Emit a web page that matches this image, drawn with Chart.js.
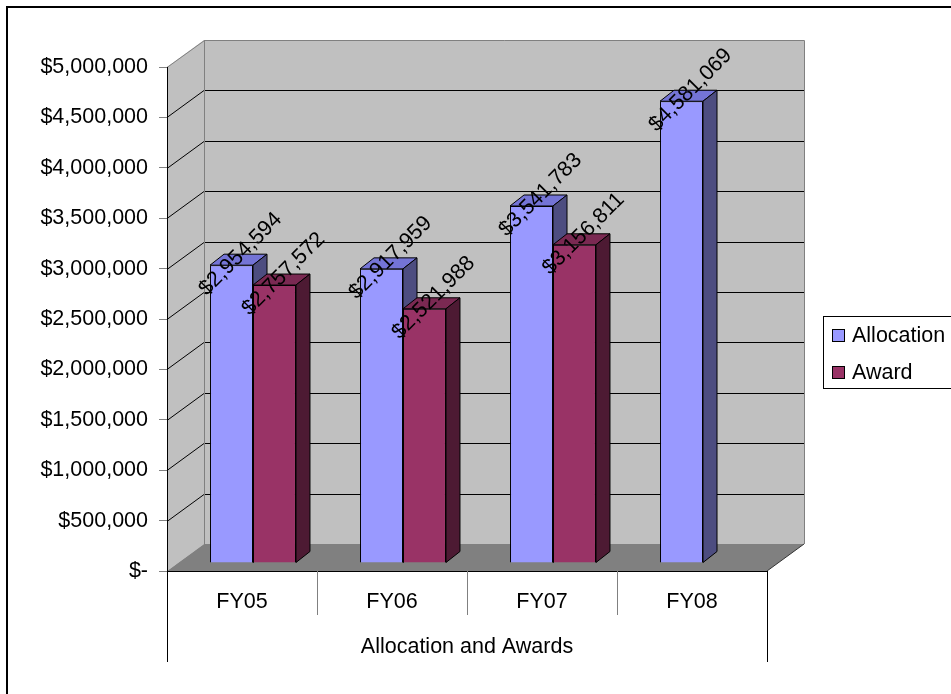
<!DOCTYPE html>
<html lang="en">
<head>
    <meta charset="UTF-8">
    <title>Allocation and Awards</title>
    <script src="https://cdn.jsdelivr.net/npm/chart.js@4.4.1/dist/chart.umd.min.js"></script>
    <style>
        body {
            margin: 0;
            background: #ffffff;
        }

        #chart {
            display: block;
        }
    </style>
</head>
<body>
    <canvas id="chart" width="951" height="694"></canvas>

    <script>
        // Data
        const categories = ['FY05', 'FY06', 'FY07', 'FY08'];
        const allocation = [2954594, 2917959, 3541783, 4581069];
        const award = [2757572, 2521988, 3156811, null];
        const yMin = 0;
        const yMax = 5000000;
        const yStep = 500000;

        const FONT = "'Liberation Sans', Arial, sans-serif";
        const FONT_SIZE = 21.5;
        const colors = {
            allocation: { front: '#9999FF', top: '#7474D6', side: '#4D4D80' },
            award: { front: '#993366', top: '#7A2952', side: '#4D1A33' }
        };

        // 3D look: depth of the box, where bars sit inside it, depth of a bar
        const WALL_DX = 37, WALL_DY = -27;
        const BAR_SHIFT_X = 11, BAR_SHIFT_Y = -8;
        const BAR_DX = 14, BAR_DY = -11;

        const money = v => v === 0 ? '$-' : '$' + v.toLocaleString('en-US');

        function poly(ctx, pts, fill, stroke) {
            ctx.beginPath();
            ctx.moveTo(pts[0][0], pts[0][1]);
            for (let i = 1; i < pts.length; i++) ctx.lineTo(pts[i][0], pts[i][1]);
            ctx.closePath();
            if (fill) { ctx.fillStyle = fill; ctx.fill(); }
            if (stroke) { ctx.strokeStyle = stroke; ctx.stroke(); }
        }

        const excel3d = {
            id: 'excel3d',
            beforeDraw(chart) {
                const { ctx, chartArea: a, scales: { y } } = chart;
                ctx.save();

                // outer frame (runs off the page at right and bottom)
                ctx.strokeStyle = '#000';
                ctx.lineWidth = 2;
                ctx.strokeRect(7, 7, 1000, 1000);
                ctx.lineWidth = 1;

                const L = a.left, R = a.right, T = a.top, B = a.bottom;
                // back wall
                poly(ctx, [[L + WALL_DX, T + WALL_DY], [R + WALL_DX, T + WALL_DY],
                           [R + WALL_DX, B + WALL_DY], [L + WALL_DX, B + WALL_DY]], '#C0C0C0', null);
                // side wall
                poly(ctx, [[L, T], [L + WALL_DX, T + WALL_DY], [L + WALL_DX, B + WALL_DY], [L, B]], '#C0C0C0', null);
                // floor
                poly(ctx, [[L, B], [R, B], [R + WALL_DX, B + WALL_DY], [L + WALL_DX, B + WALL_DY]], '#808080', null);

                // gridlines on walls
                ctx.strokeStyle = '#000';
                for (let v = yMin + yStep; v < yMax; v += yStep) {
                    const yy = Math.round(y.getPixelForValue(v)) + 0.5;
                    ctx.beginPath();
                    ctx.moveTo(L, yy);
                    ctx.lineTo(L + WALL_DX, yy + WALL_DY);
                    ctx.lineTo(R + WALL_DX, yy + WALL_DY);
                    ctx.stroke();
                }

                // wall edges
                ctx.strokeStyle = '#808080';
                ctx.beginPath();
                ctx.moveTo(L, T + 0.5);
                ctx.lineTo(L + WALL_DX + 0.5, T + WALL_DY + 0.5);
                ctx.lineTo(R + WALL_DX + 0.5, T + WALL_DY + 0.5);
                ctx.lineTo(R + WALL_DX + 0.5, B + WALL_DY);
                ctx.moveTo(L + WALL_DX + 0.5, T + WALL_DY);
                ctx.lineTo(L + WALL_DX + 0.5, B + WALL_DY);
                ctx.stroke();

                ctx.strokeStyle = '#333';
                ctx.beginPath();
                ctx.moveTo(R, B);
                ctx.lineTo(R + WALL_DX, B + WALL_DY);
                ctx.stroke();
                ctx.restore();
            },
            // bars are drawn below, category by category, so neighbours overlap right
            beforeDatasetDraw() {
                return false;
            },
            afterDatasetsDraw(chart) {
                const { ctx } = chart;
                const sets = chart.data.datasets;
                ctx.save();
                ctx.translate(BAR_SHIFT_X, BAR_SHIFT_Y);
                ctx.lineWidth = 1;

                categories.forEach((cat, j) => {
                    sets.forEach((ds, i) => {
                        const v = ds.data[j];
                        if (v === null || v === undefined) return;
                        const el = chart.getDatasetMeta(i).data[j];
                        el.draw(ctx, chart.chartArea);
                        const { x, y, base, width } = el.getProps(['x', 'y', 'base', 'width'], true);
                        const x0 = x - width / 2, x1 = x + width / 2;
                        poly(ctx, [[x0, y], [x1, y], [x1 + BAR_DX, y + BAR_DY], [x0 + BAR_DX, y + BAR_DY]], ds.faces.top, '#000');
                        poly(ctx, [[x1, y], [x1 + BAR_DX, y + BAR_DY], [x1 + BAR_DX, base + BAR_DY], [x1, base]], ds.faces.side, '#000');
                    });
                });

                // value labels, slanted
                ctx.font = FONT_SIZE + 'px ' + FONT;
                ctx.fillStyle = '#000';
                ctx.textAlign = 'center';
                ctx.textBaseline = 'middle';
                sets.forEach((ds, i) => {
                    chart.getDatasetMeta(i).data.forEach((el, j) => {
                        const v = ds.data[j];
                        if (v === null || v === undefined) return;
                        ctx.save();
                        ctx.translate(el.x + 9, el.y - 11);
                        ctx.rotate(-Math.PI / 4);
                        ctx.fillText(money(v), 0, 0);
                        ctx.restore();
                    });
                });
                ctx.restore();
            },
            afterDraw(chart) {
                const { ctx, chartArea: a } = chart;
                const n = categories.length;
                const w = (a.right - a.left) / n;
                ctx.save();
                ctx.lineWidth = 1;
                for (let i = 0; i <= n; i++) {
                    const xx = Math.round(a.left + i * w) + 0.5;
                    const outer = i === 0 || i === n;
                    ctx.strokeStyle = outer ? '#000' : '#808080';
                    ctx.beginPath();
                    ctx.moveTo(xx, a.bottom);
                    ctx.lineTo(xx, a.bottom + (outer ? 91 : 44));
                    ctx.stroke();
                }

                // legend
                ctx.strokeStyle = '#000';
                ctx.strokeRect(823.5, 316.5, 140, 72);
                ctx.font = FONT_SIZE + 'px ' + FONT;
                ctx.textBaseline = 'alphabetic';
                ctx.textAlign = 'left';
                chart.data.datasets.forEach((ds, i) => {
                    const top = 329.5 + i * 37;
                    ctx.fillStyle = ds.backgroundColor;
                    ctx.fillRect(832.5, top, 12, 12);
                    ctx.strokeRect(832.5, top, 12, 12);
                    ctx.fillStyle = '#000';
                    ctx.fillText(ds.label, 852, top + 12.5);
                });
                ctx.restore();
            }
        };

        Chart.defaults.font.family = FONT;
        Chart.defaults.color = '#000';

        new Chart(document.getElementById('chart'), {
            type: 'bar',
            data: {
                labels: categories,
                datasets: [
                    {
                        label: 'Allocation',
                        data: allocation,
                        backgroundColor: colors.allocation.front,
                        faces: colors.allocation,
                        borderColor: '#000',
                        borderWidth: 1
                    },
                    {
                        label: 'Award',
                        data: award,
                        backgroundColor: colors.award.front,
                        faces: colors.award,
                        borderColor: '#000',
                        borderWidth: 1
                    }
                ]
            },
            options: {
                responsive: false,
                animation: false,
                devicePixelRatio: 1,
                categoryPercentage: 0.573,
                barPercentage: 1,
                layout: { padding: { top: 67, right: 184, left: 0, bottom: 0 } },
                plugins: {
                    legend: { display: false },
                    tooltip: { enabled: false }
                },
                scales: {
                    y: {
                        min: yMin,
                        max: yMax,
                        afterFit(scale) { scale.width = 167; },
                        ticks: {
                            stepSize: yStep,
                            callback: v => money(v),
                            font: { size: FONT_SIZE },
                            padding: 11
                        },
                        grid: {
                            drawOnChartArea: false,
                            tickLength: 8,
                            color: '#808080'
                        },
                        border: { color: '#000' }
                    },
                    x: {
                        afterFit(scale) { scale.height = 123; },
                        ticks: {
                            font: { size: FONT_SIZE },
                            padding: 18
                        },
                        grid: { display: false, drawTicks: false },
                        border: { color: '#000' },
                        title: {
                            display: true,
                            text: 'Allocation and Awards',
                            font: { size: FONT_SIZE },
                            padding: { top: 0, bottom: 34 }
                        }
                    }
                }
            },
            plugins: [excel3d]
        });
    </script>
</body>
</html>
